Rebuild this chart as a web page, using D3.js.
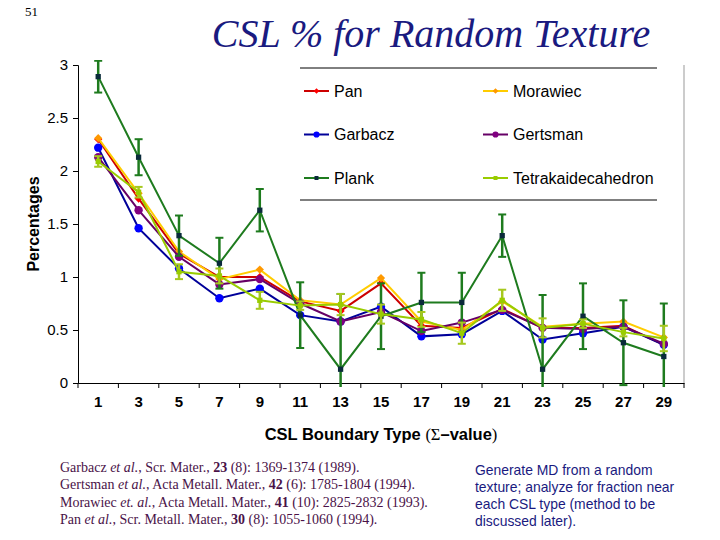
<!DOCTYPE html>
<html><head><meta charset="utf-8">
<script src="https://cdn.jsdelivr.net/npm/d3@7"></script>
<style>body{margin:0;background:#fff}svg{display:block}</style>
</head><body>
<script>
const categories = ["1","3","5","7","9","11","13","15","17","19","21","23","25","27","29"];
const yTicks = [0,0.5,1,1.5,2,2.5,3];
const pan      = [2.30,1.74,1.22,1.00,1.00,0.77,0.68,0.94,0.54,0.52,0.70,0.52,0.52,0.54,0.36];
const morawiec = [2.31,1.79,1.24,0.98,1.07,0.78,0.74,0.99,0.58,0.50,0.77,0.53,0.56,0.58,0.43];
const garbacz  = [2.22,1.46,1.08,0.80,0.89,0.64,0.58,0.72,0.44,0.46,0.68,0.41,0.47,0.53,0.36];
const gertsman = [2.13,1.63,1.19,0.93,0.98,0.75,0.58,0.67,0.49,0.57,0.69,0.52,0.51,0.53,0.37];
const plank    = [2.89,2.13,1.39,1.13,1.63,0.64,0.13,0.63,0.76,0.76,1.39,0.13,0.63,0.38,0.25];
const plankErr = [0.15,0.17,0.19,0.24,0.20,0.31,0.71,0.31,0.28,0.28,0.20,0.70,0.31,0.40,0.50];
const tetra    = [2.09,1.80,1.05,1.01,0.78,0.73,0.74,0.65,0.60,0.47,0.78,0.52,0.56,0.48,0.42];
const tetraErr = [0.05,0.05,0.07,0.07,0.08,0.04,0.10,0.09,0.07,0.10,0.10,0.09,0.04,0.04,0.12];
const seriesNames = ["Pan","Morawiec","Garbacz","Gertsman","Plank","Tetrakaidecahedron"];
const references = [
  [["Garbacz ",""],["et al.","i"],[", Scr. Mater., ",""],["23","b"],[" (8): 1369-1374 (1989).",""]],
  [["Gertsman ",""],["et al.","i"],[", Acta Metall. Mater., ",""],["42","b"],[" (6): 1785-1804 (1994).",""]],
  [["Morawiec ",""],["et. al.","i"],[", Acta Metall. Mater., ",""],["41","b"],[" (10): 2825-2832 (1993).",""]],
  [["Pan ",""],["et al.","i"],[", Scr. Metall. Mater., ",""],["30","b"],[" (8): 1055-1060 (1994).",""]]
];
const note = ["Generate MD from a random","texture; analyze for fraction near","each CSL type (method to be","discussed later)."];

const series = [
  {name:"Pan", values:pan, line:"#cc0000", fill:"#ff0000", shape:"diamond"},
  {name:"Morawiec", values:morawiec, line:"#ffcc00", fill:"#ff9900", shape:"diamond"},
  {name:"Garbacz", values:garbacz, line:"#000099", fill:"#0000ff", shape:"circle"},
  {name:"Gertsman", values:gertsman, line:"#660066", fill:"#800080", shape:"circle"},
  {name:"Plank", values:plank, err:plankErr, line:"#1e7b1e", fill:"#0a2a3a", shape:"square", errColor:"#1e7b1e"},
  {name:"Tetrakaidecahedron", values:tetra, err:tetraErr, line:"#99cc00", fill:"#99cc00", shape:"square", errColor:"#a6c81e"}
];

const W=720,H=540;
const svg=d3.select("body").append("svg").attr("width",W).attr("height",H);
const x=d3.scaleBand().domain(categories).range([78,684]);
const y=d3.scaleLinear().domain([0,3]).range([383,65]);
const cx=c=>x(c)+x.bandwidth()/2;

svg.append("text").attr("x",25).attr("y",16).attr("font-family","Liberation Serif, Times New Roman, serif")
  .attr("font-size",13).text("51");
svg.append("text").attr("x",431).attr("y",47).attr("text-anchor","middle")
  .attr("font-family","Liberation Serif, Times New Roman, serif").attr("font-style","italic")
  .attr("font-size",40).attr("fill","#1a1a80").text("CSL % for Random Texture");

svg.append("line").attr("x1",684).attr("x2",684).attr("y1",65).attr("y2",383).attr("stroke","#999").attr("stroke-width",1);

const yAxis=d3.axisLeft(y).tickValues(yTicks).tickSize(5).tickFormat(d=>String(d));
const gy=svg.append("g").attr("transform","translate(78,0)").call(yAxis);
gy.select(".domain").attr("stroke","#000");
gy.selectAll("text").attr("font-family","Liberation Sans, Arial, sans-serif").attr("font-size",15).attr("fill","#000").attr("dx",-2);

const gx=svg.append("g").attr("transform","translate(0,383)").call(d3.axisBottom(x).tickSize(0).tickSizeOuter(0));
gx.select(".domain").attr("stroke","#000");
gx.selectAll("text").attr("font-family","Liberation Sans, Arial, sans-serif").attr("font-size",15)
  .attr("font-weight","bold").attr("fill","#000").attr("dy","1.4em");
svg.append("g").selectAll("line").data(categories.concat(["end"])).join("line")
  .attr("x1",(d,i)=>x.range()[0]+i*x.step()).attr("x2",(d,i)=>x.range()[0]+i*x.step())
  .attr("y1",383).attr("y2",388).attr("stroke","#000");

const xt=svg.append("text").attr("x",381).attr("y",440).attr("text-anchor","middle")
  .attr("font-family","Liberation Sans, Arial, sans-serif").attr("font-weight","bold").attr("font-size",16.5);
xt.append("tspan").text("CSL Boundary Type ");
xt.append("tspan").attr("font-family","Liberation Serif, Times New Roman, serif").attr("font-weight","normal").text("(Σ");
xt.append("tspan").text("–value");
xt.append("tspan").attr("font-family","Liberation Serif, Times New Roman, serif").attr("font-weight","normal").text(")");
svg.append("text").attr("transform","translate(39,224) rotate(-90)").attr("text-anchor","middle")
  .attr("font-family","Liberation Sans, Arial, sans-serif").attr("font-weight","bold").attr("font-size",16)
  .text("Percentages");

svg.append("clipPath").attr("id","clip").append("rect").attr("x",70).attr("y",60).attr("width",620).attr("height",327);

const symFor=(shape,big)=>shape==="diamond"?d3.symbol(d3.symbolSquare,big?34:16)
  :shape==="circle"?d3.symbol(d3.symbolCircle,big?55:30):d3.symbol(d3.symbolSquare,big?28:16);
const rot=shape=>shape==="diamond"?" rotate(45)":"";
const line=d3.line().x((d,i)=>cx(categories[i])).y(d=>y(d));

series.forEach(s=>{
  const g=svg.append("g");
  g.append("path").datum(s.values).attr("d",line).attr("fill","none").attr("stroke",s.line).attr("stroke-width",2);
  if(s.err){
    const eg=g.append("g").attr("clip-path","url(#clip)");
    s.values.forEach((v,i)=>{
      const X=cx(categories[i]), y1=y(v+s.err[i]), y2=y(v-s.err[i]);
      eg.append("line").attr("x1",X).attr("x2",X).attr("y1",y1).attr("y2",y2).attr("stroke",s.errColor).attr("stroke-width",2.5);
      [y1,y2].forEach(yy=>eg.append("line").attr("x1",X-4).attr("x2",X+4).attr("y1",yy).attr("y2",yy).attr("stroke",s.errColor).attr("stroke-width",2));
    });
  }
  g.selectAll("path.m").data(s.values).join("path").attr("class","m")
    .attr("transform",(d,i)=>`translate(${cx(categories[i])},${y(d)})${rot(s.shape)}`)
    .attr("d",symFor(s.shape,true)).attr("fill",s.fill);
});

svg.append("line").attr("x1",300).attr("x2",657).attr("y1",68).attr("y2",68).attr("stroke","#000");
svg.append("line").attr("x1",300).attr("x2",657).attr("y1",200).attr("y2",200).attr("stroke","#000");
seriesNames.forEach((n,k)=>{
  const s=series.find(d=>d.name===n);
  const col=k%2,row=Math.floor(k/2);
  const lx=col?483:304, ly=91+row*43.5;
  svg.append("line").attr("x1",lx).attr("x2",lx+25).attr("y1",ly).attr("y2",ly).attr("stroke",s.line).attr("stroke-width",2);
  svg.append("path").attr("transform",`translate(${lx+12.5},${ly})${rot(s.shape)}`).attr("d",symFor(s.shape,false)).attr("fill",s.fill);
  svg.append("text").attr("x",lx+30).attr("y",ly+5.5).attr("font-family","Liberation Sans, Arial, sans-serif")
    .attr("font-size",16).text(n);
});

references.forEach((r,i)=>{
  const t=svg.append("text").attr("x",60).attr("y",472+i*17.3).attr("font-family","Liberation Serif, Times New Roman, serif")
    .attr("font-size",14).attr("fill","#4a1248");
  r.forEach(([txt,st])=>{
    const ts=t.append("tspan").text(txt);
    if(st==="i")ts.attr("font-style","italic");
    if(st==="b")ts.attr("font-weight","bold");
  });
});
note.forEach((l,i)=>{
  svg.append("text").attr("x",475).attr("y",475+i*17).attr("font-family","Liberation Sans, Arial, sans-serif")
    .attr("font-size",13.9).attr("fill","#1a1a80").text(l);
});
</script>
</body></html>
